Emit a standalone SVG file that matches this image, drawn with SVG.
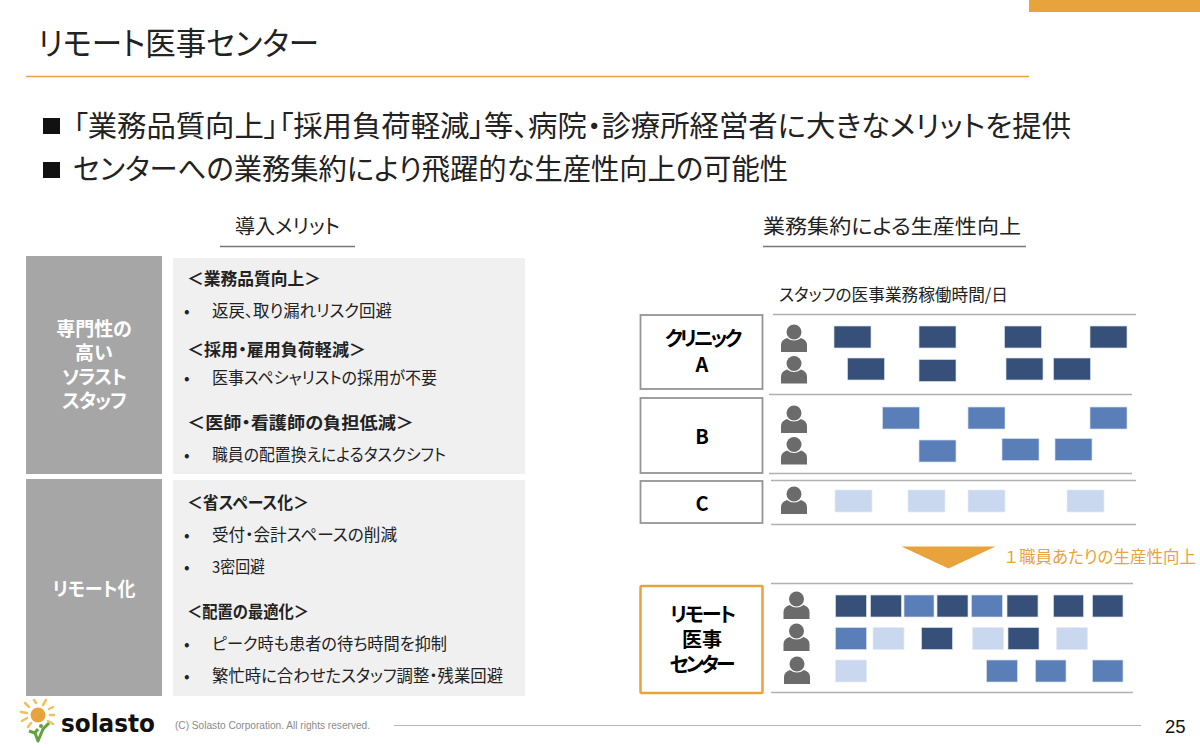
<svg xmlns="http://www.w3.org/2000/svg" width="1200" height="750" viewBox="0 0 1200 750">
<style>
text{font-family:"Noto Sans CJK JP","Liberation Sans",sans-serif;fill:#222;font-feature-settings:"palt";}
.h{font-size:20px}
.b{font-size:16.500px;font-weight:700}
.i{font-size:16.500px}
.s{font-size:19px;font-weight:700;text-anchor:middle;fill:#fff}
.n{font-size:20px;font-weight:700;text-anchor:middle;fill:#000}
.t1{letter-spacing:-1px}
.t2{letter-spacing:-2px}
.t3{letter-spacing:-3px}
.d{fill:#375079;stroke:#d6deeb;stroke-width:.7}.m{fill:#5a7fb8;stroke:#d6deeb;stroke-width:.7}.l{fill:#c9d8ef;stroke:#e4ebf6;stroke-width:.7}
.r{stroke:#b0b0b0;stroke-width:1.500;fill:none}
.box{fill:#fff;stroke:#959595;stroke-width:1.800}
.ray{stroke:#efc25e;stroke-width:2.500;stroke-linecap:round;fill:none}
</style>
<defs>
<g id="p"><circle cx="0" cy="0" r="7.500" fill="#6b6b6b"/><path d="M-13 20V13Q-13 8 -7 6Q0 11 7 6Q13 8 13 13V20Z" fill="#6b6b6b"/></g>
</defs>
<rect x="1029" y="0" width="171" height="12" fill="#e8a33c"/>
<text x="38" y="55" style="font-size:32px" textLength="281" lengthAdjust="spacingAndGlyphs">リモート医事センター</text>
<path d="M26 76.500H1029" stroke="#e8a33c" stroke-width="1.500"/>
<rect x="43" y="118" width="17" height="16" fill="#111"/>
<text x="73" y="137" style="font-size:29px" textLength="998" lengthAdjust="spacingAndGlyphs">「業務品質向上」「採用負荷軽減」等、病院・診療所経営者に大きなメリットを提供</text>
<rect x="43" y="162" width="17" height="16" fill="#111"/>
<text x="73" y="180" style="font-size:29px" textLength="715" lengthAdjust="spacingAndGlyphs">センターへの業務集約により飛躍的な生産性向上の可能性</text>
<text x="235" y="234" class="h" textLength="105" lengthAdjust="spacingAndGlyphs">導入メリット</text>
<path d="M220 246.500H355M763 246.500H1026" stroke="#777" stroke-width="1.500"/>
<text x="763" y="234" class="h" textLength="258" lengthAdjust="spacingAndGlyphs">業務集約による生産性向上</text>
<g id="s1"><rect x="26" y="256" width="136" height="218" fill="#a6a6a6"/><text class="s"><tspan x="94" y="336">専門性の</tspan><tspan x="94" y="360">高い</tspan><tspan class="t1" x="94" y="384">ソラスト</tspan><tspan class="t1" x="94" y="408">スタッフ</tspan></text></g>
<g id="s2"><rect x="26" y="479" width="136" height="217" fill="#a6a6a6"/><text class="s" x="94" y="596" textLength="83" lengthAdjust="spacingAndGlyphs">リモート化</text></g>
<g id="t1"><rect x="173" y="258" width="352" height="216" fill="#f0f0f0"/>
<text class="b" x="187" y="285" textLength="134" lengthAdjust="spacingAndGlyphs">＜業務品質向上＞</text><text class="i" x="184" y="317">•</text><text class="i" x="212" y="317" textLength="180" lengthAdjust="spacingAndGlyphs">返戻、取り漏れリスク回避</text>
<text class="b" x="187" y="356" textLength="179" lengthAdjust="spacingAndGlyphs">＜採用・雇用負荷軽減＞</text><text class="i" x="184" y="384">•</text><text class="i" x="212" y="384" textLength="225" lengthAdjust="spacingAndGlyphs">医事スペシャリストの採用が不要</text>
<text class="b" x="187" y="429" textLength="227" lengthAdjust="spacingAndGlyphs">＜医師・看護師の負担低減＞</text><text class="i" x="184" y="461">•</text><text class="i" x="212" y="461" textLength="234" lengthAdjust="spacingAndGlyphs">職員の配置換えによるタスクシフト</text></g>
<g id="t2"><rect x="173" y="480" width="352" height="216" fill="#f0f0f0"/>
<text class="b" x="187" y="509" textLength="122" lengthAdjust="spacingAndGlyphs">＜省スペース化＞</text><text class="i" x="184" y="541">•</text><text class="i" x="212" y="541" textLength="185" lengthAdjust="spacingAndGlyphs">受付・会計スペースの削減</text><text class="i" x="184" y="573">•</text><text class="i" x="212" y="573" textLength="53" lengthAdjust="spacingAndGlyphs">3密回避</text>
<text class="b" x="187" y="618" textLength="122" lengthAdjust="spacingAndGlyphs">＜配置の最適化＞</text><text class="i" x="184" y="650">•</text><text class="i" x="212" y="650" textLength="235" lengthAdjust="spacingAndGlyphs">ピーク時も患者の待ち時間を抑制</text><text class="i" x="184" y="682">•</text><text class="i" x="212" y="682" textLength="291" lengthAdjust="spacingAndGlyphs">繁忙時に合わせたスタッフ調整・残業回避</text></g>
<text x="779" y="301" style="font-size:17px" textLength="229" lengthAdjust="spacingAndGlyphs">スタッフの医事業務稼働時間/日</text>
<g id="connectors"><path class="r" d="M773 314.500H1136M769 394.500H1132M769 473.500H1132M771 480.500H1136M771 524.500H1136M771 583.500H1133M771 692.500H1133"/></g>
<g id="clinicA"><rect class="box" x="640.500" y="315" width="122" height="74"/><text class="n"><tspan class="t3" x="702" y="346">クリニック</tspan><tspan x="702" y="372">A</tspan></text></g>
<g id="clinicB"><rect class="box" x="640.500" y="398" width="122" height="75"/><text class="n" x="702" y="444">B</text></g>
<g id="clinicC"><rect class="box" x="640.500" y="481" width="122" height="42"/><text class="n" x="702" y="511">C</text></g>
<g id="center"><rect x="640.500" y="586" width="122" height="107" fill="#fff" stroke="#e8a33c" stroke-width="2.500" rx="1"/><text class="n"><tspan class="t2" x="702" y="622">リモート</tspan><tspan x="702" y="647">医事</tspan><tspan class="t3" x="701" y="672">センター</tspan></text></g>
<g id="staff"><use href="#p" x="794" y="332"/><use href="#p" x="794" y="363.500"/><use href="#p" x="794" y="413"/><use href="#p" x="794" y="444.500"/><use href="#p" x="794" y="494"/><use href="#p" x="796.500" y="599"/><use href="#p" x="796.500" y="631"/><use href="#p" x="797" y="664"/></g>
<g id="bars">
<rect class="d" x="834" y="326" width="37" height="22"/><rect class="d" x="919" y="326" width="37" height="22"/><rect class="d" x="1004.500" y="326" width="37" height="22"/><rect class="d" x="1090" y="326" width="37" height="22"/>
<rect class="d" x="847.500" y="358" width="37" height="22"/><rect class="d" x="919" y="359.500" width="37" height="22"/><rect class="d" x="1006" y="358" width="37" height="22"/><rect class="d" x="1053.500" y="358" width="37" height="22"/>
<rect class="m" x="882.500" y="407" width="37" height="22"/><rect class="m" x="968" y="407" width="37" height="22"/><rect class="m" x="1090" y="407" width="37" height="22"/>
<rect class="m" x="919" y="440" width="37" height="22"/><rect class="m" x="1002" y="438.500" width="37" height="22"/><rect class="m" x="1055" y="438.500" width="37" height="22"/>
<rect class="l" x="835" y="490" width="37" height="22"/><rect class="l" x="908" y="490" width="37" height="22"/><rect class="l" x="968" y="490" width="37" height="22"/><rect class="l" x="1067" y="490" width="37" height="22"/>
<rect class="d" x="835.500" y="595" width="31" height="22"/><rect class="d" x="870.500" y="595" width="31" height="22"/><rect class="m" x="904" y="595" width="30" height="22"/><rect class="d" x="937" y="595" width="31" height="22"/><rect class="m" x="971.500" y="595" width="31" height="22"/><rect class="d" x="1007" y="595" width="31" height="22"/><rect class="d" x="1053.500" y="595" width="30" height="22"/><rect class="d" x="1092.500" y="595" width="30.500" height="22"/>
<rect class="m" x="835.500" y="627.500" width="31" height="22"/><rect class="l" x="873" y="627.500" width="31" height="22"/><rect class="d" x="921.500" y="627.500" width="31" height="22"/><rect class="l" x="972.500" y="627.500" width="31" height="22"/><rect class="d" x="1008" y="627.500" width="31" height="22"/><rect class="l" x="1056.500" y="627.500" width="31" height="22"/>
<rect class="l" x="835.500" y="660" width="31" height="22"/><rect class="m" x="986.500" y="660" width="31" height="22"/><rect class="m" x="1035.500" y="660" width="30.500" height="22"/><rect class="m" x="1092.500" y="660" width="30.500" height="22"/>
</g>
<polygon points="901.500,546.500 995.500,546.500 948.500,568.500" fill="#e8a33c"/>
<text y="563" style="font-size:16.500px;fill:#e8a33c"><tspan x="1005" style="fill:#e8a33c">１</tspan><tspan x="1019" style="fill:#e8a33c">職員あたりの生産性向上</tspan></text>
<g id="logo"><circle cx="38" cy="715" r="7.500" fill="#e8a33c"/>
<path class="ray" d="M43 705L46 700M36 703L34 700M29 707L25 703M27 713L21 712M27 718L22 721M49 709L53 707M50 715L54 715M48 721L53 724M31 723L28 727"/>
<path d="M29 731L35 733L38 741L43 729L49 723M34 734L38 729" stroke="#5fa33d" stroke-width="3" fill="none" stroke-linejoin="round"/>
<circle cx="41" cy="726" r="2" fill="#5fa33d"/>
<text x="61" y="732" style="font-size:24px;font-weight:700;font-family:'DejaVu Sans',sans-serif;fill:#111;font-feature-settings:normal" textLength="94" lengthAdjust="spacingAndGlyphs">solasto</text></g>
<text x="175" y="729" style="font-size:10.500px;fill:#8a8a8a;font-family:'Liberation Sans',sans-serif" textLength="195" lengthAdjust="spacingAndGlyphs">(C) Solasto Corporation. All rights reserved.</text>
<path d="M394 725.500H1141" stroke="#b5b5b5"/>
<text x="1165" y="733" style="font-size:18.500px;font-family:'Liberation Sans',sans-serif;fill:#111">25</text>
</svg>
